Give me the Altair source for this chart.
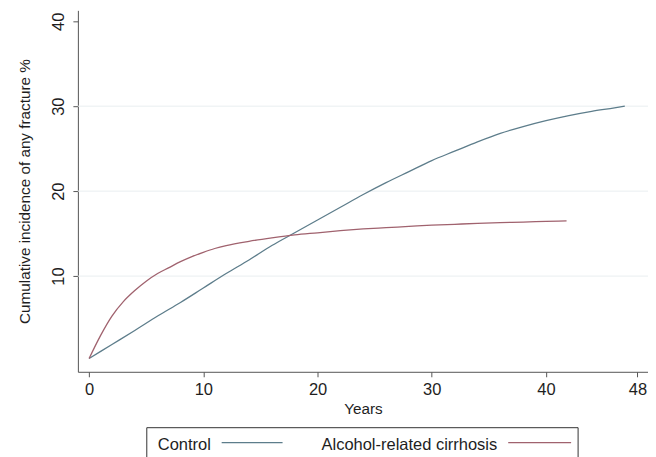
import altair as alt
import pandas as pd

# ---- data ----
series_names = ["Control", "Alcohol-related cirrhosis"]

control_years = [0, 2, 4, 6, 8, 10, 12, 14, 16, 18, 20, 22, 24, 26, 28, 30, 32, 34, 36, 38, 40, 42, 44, 46, 46.9]
control_vals = [0.3, 1.95, 3.6, 5.3, 6.9, 8.6, 10.3, 11.9, 13.6, 15.1, 16.6, 18.1, 19.6, 21.0, 22.3, 23.6, 24.7, 25.8, 26.8, 27.6, 28.3, 28.9, 29.4, 29.8, 30.0]

cirr_years = [0, 1, 2, 3, 4, 5, 6, 7, 8, 9, 10, 11, 12, 14, 16, 18, 20, 22, 24, 26, 28, 30, 32, 34, 36, 38, 40, 41.8]
cirr_vals = [0.3, 3.0, 5.3, 7.0, 8.3, 9.4, 10.3, 11.0, 11.7, 12.3, 12.8, 13.25, 13.6, 14.1, 14.5, 14.85, 15.1, 15.35, 15.55, 15.7, 15.85, 16.0, 16.1, 16.2, 16.3, 16.35, 16.45, 16.5]

x_ticks = [0, 10, 20, 30, 40, 48]
y_ticks = [10, 20, 30, 40]
grid_vals = [10, 20, 30]

colors = ["#5d7d8b", "#a0626e"]
FONT = "Liberation Sans"
FS = 16.5
TFS = 15.3
TXT = "#1e1e1e"

df = pd.concat([
    pd.DataFrame({"Years": control_years, "Value": control_vals, "Group": series_names[0], "order": range(len(control_years))}),
    pd.DataFrame({"Years": cirr_years, "Value": cirr_vals, "Group": series_names[1], "order": range(len(cirr_years))}),
])

W, H = 571, 362
xscale = alt.Scale(domain=[-0.98, 48.93], nice=False, zero=False)
yscale = alt.Scale(domain=[-1.26, 41.28], nice=False, zero=False)
cscale = alt.Scale(domain=series_names, range=colors)

grid = alt.Chart(pd.DataFrame({"g": grid_vals})).mark_rule(color="#e9eef0", strokeWidth=1).encode(
    y=alt.Y("g:Q", scale=yscale),
    x=alt.value(0), x2=alt.value(W),
)

lines = alt.Chart(df).mark_line(strokeWidth=1.3, interpolate="monotone").encode(
    x=alt.X("Years:Q", scale=xscale,
            axis=alt.Axis(values=x_ticks, title="Years", grid=False, tickSize=5,
                          labelPadding=5, titlePadding=3, domainColor="#555", tickColor="#555",
                          labelFont=FONT, labelFontSize=FS, labelColor=TXT,
                          titleFont=FONT, titleFontSize=TFS, titleColor=TXT, titleFontWeight="normal",
                          labelFlush=False)),
    y=alt.Y("Value:Q", scale=yscale,
            axis=alt.Axis(values=y_ticks, title="Cumulative incidence of any fracture %", grid=False,
                          tickSize=5, labelAngle=270, labelAlign="center", labelBaseline="bottom",
                          labelPadding=6, titlePadding=18,
                          domainColor="#555", tickColor="#555",
                          labelFont=FONT, labelFontSize=FS, labelColor=TXT,
                          titleFont=FONT, titleFontSize=TFS, titleColor=TXT, titleFontWeight="normal",
                          labelFlush=False)),
    color=alt.Color("Group:N", scale=cscale, legend=None),
    order="order:Q",
)

# ---- manual Stata-style legend (label then line sample) ----
box = alt.Chart(pd.DataFrame({"k": [0]})).mark_rect(fill="white", stroke="#333", strokeWidth=1).encode(
    x=alt.value(69), x2=alt.value(501), y=alt.value(418), y2=alt.value(470)
)
leg_label_x = [80, 244]
leg_line_x = [(144, 205), (431, 494)]
leg_layers = []
for i, name in enumerate(series_names):
    leg_layers.append(
        alt.Chart(pd.DataFrame({"t": [name]})).mark_text(
            font=FONT, fontSize=FS, color=TXT, align="left", baseline="middle"
        ).encode(text="t:N", x=alt.value(leg_label_x[i]), y=alt.value(435))
    )
    leg_layers.append(
        alt.Chart(pd.DataFrame({"t": [name]})).mark_rule(strokeWidth=1.3).encode(
            x=alt.value(leg_line_x[i][0]), x2=alt.value(leg_line_x[i][1]), y=alt.value(433),
            color=alt.Color("t:N", scale=cscale, legend=None),
        )
    )

chart = alt.layer(grid, lines, box, *leg_layers).properties(
    width=W, height=H,
    autosize=alt.AutoSizeParams(type="none"),
    padding={"left": 70, "top": 2, "right": 0, "bottom": 85},
    background="white",
).configure_view(stroke=None)

chart.save("out.html", embed_options={"renderer": "svg", "actions": False})
